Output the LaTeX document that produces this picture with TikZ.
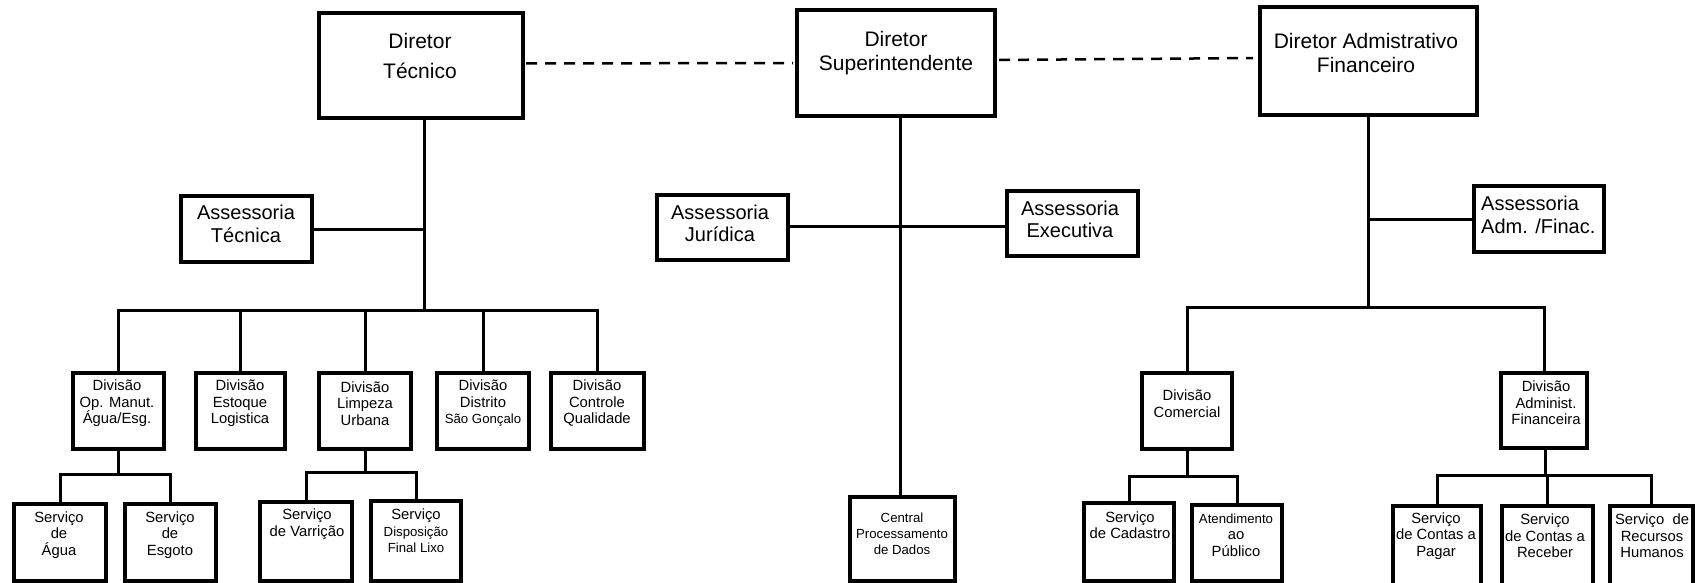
\documentclass[tikz,border=0pt]{standalone}
\usepackage{fontspec}
\setmainfont{Liberation Sans}
\usetikzlibrary{calc}
\newcommand\bx[6]{\node[#1, minimum width={#5-#3}, minimum height={#6-#4}] (#2) at ({(#3+#5)/2},{(#4+#6)/2}) {};}
\begin{document}
\begin{tikzpicture}[x=1pt,y=-1pt,
  bigbox/.style={draw, line width=4.2pt, inner sep=0pt, outer sep=0pt},
  medbox/.style={draw, line width=3.4pt, inner sep=0pt, outer sep=0pt},
  smbox/.style={draw, line width=3.4pt, inner sep=0pt, outer sep=0pt},
  conn/.style={line width=3pt},
  dashconn/.style={line width=2.5pt, dash pattern=on 11pt off 8pt},
  bigtxt/.style={align=center, inner sep=0pt, font=\fontsize{21}{24}\selectfont},
  asstxt/.style={align=center, inner sep=0pt, font=\fontsize{20}{22.5}\selectfont},
  divtxt/.style={align=center, inner sep=0pt, font=\fontsize{14.8}{16.5}\selectfont},
  smtxt/.style={align=center, inner sep=0pt, font=\fontsize{13.2}{16}\selectfont}]
\useasboundingbox (0,0) rectangle (1695,583);
% top directors
\bx{bigbox}{dt}{319}{13}{523}{118}
\bx{bigbox}{ds}{797}{10}{995}{116}
\bx{bigbox}{daf}{1260}{7}{1477}{115}
\node[bigtxt, font=\fontsize{21}{29.5}\selectfont] (dtt) at (420,56) {Diretor\\Técnico};
\node[bigtxt] (dst) at (896,53) {Diretor\\Superintendente};
\node[bigtxt] (daft) at (1366,53) {Diretor Admistrativo\\Financeiro};
% assessorias
\bx{medbox}{at}{181}{196}{312}{262}
\bx{medbox}{aj}{657}{195}{788}{260}
\bx{medbox}{ae}{1007}{191}{1138}{256}
\bx{medbox}{aaf}{1474}{186}{1604}{252}
\node[asstxt] (att) at (246,224) {Assessoria\\Técnica};
\node[asstxt] (ajt) at (720,223.5) {Assessoria\\Jurídica};
\node[asstxt] (aet) at (1070,219.5) {Assessoria\\Executiva};
\node[asstxt, align=left, anchor=west] (aaft) at (1481,215) {Assessoria\\Adm. /Finac.};
% divisions
\bx{smbox}{d1}{73}{373}{164}{449}
\bx{smbox}{d2}{196}{373}{285}{449}
\bx{smbox}{d3}{319}{373}{411}{449}
\bx{smbox}{d4}{437}{373}{529}{449}
\bx{smbox}{d5}{551}{373}{644}{449}
\bx{smbox}{dc}{1142}{373}{1232}{449}
\bx{smbox}{dadm}{1501}{373}{1587}{448}
\node[divtxt] (d1t) at (117,403.5) {Divisão\\Op. Manut.\\Água/Esg.};
\node[divtxt] (d2t) at (240,403.5) {Divisão\\Estoque\\Logistica};
\node[divtxt] (d3t) at (365,403.5) {Divisão\\Limpeza\\Urbana};
\node[divtxt] (d4t) at (483,403.5) {Divisão\\Distrito\\{\fontsize{13.2}{16}\selectfont São Gonçalo}};
\node[divtxt] (d5t) at (597,403.5) {Divisão\\Controle\\Qualidade};
\node[divtxt] (dct) at (1187,403.5) {Divisão\\Comercial};
\node[divtxt] (dadmt) at (1546,403) {Divisão\\Administ.\\Financeira};
% services
\bx{smbox}{s1}{14}{504}{106}{581}
\bx{smbox}{s2}{125}{504}{216}{581}
\bx{smbox}{s3}{260}{502}{352}{581}
\bx{smbox}{s4}{371}{501}{461}{581}
\bx{smbox}{cpd}{850}{497}{955}{581}
\bx{smbox}{sc}{1084}{503}{1174}{581}
\bx{smbox}{ap}{1192}{505}{1282}{581}
\bx{smbox}{scp}{1393}{506}{1481}{590}
\bx{smbox}{scr}{1502}{506}{1593}{590}
\bx{smbox}{srh}{1610}{506}{1693}{590}
\node[divtxt] (s1t) at (59,535) {Serviço\\de\\Água};
\node[divtxt] (s2t) at (170,535) {Serviço\\de\\Esgoto};
\node[divtxt] (s3t) at (307,524) {Serviço\\de Varrição};
\node[divtxt] (s4t) at (416,531) {Serviço\\{\fontsize{13.2}{16}\selectfont Disposição}\\{\fontsize{13.2}{16}\selectfont Final Lixo}};
\node[smtxt] (cpdt) at (902,533.5) {Central\\Processamento\\de Dados};
\node[divtxt] (sct) at (1130,525) {Serviço\\de Cadastro};
\node[divtxt] (apt) at (1236,535) {{\fontsize{13.2}{16}\selectfont Atendimento}\\ao\\Público};
\node[divtxt] (scpt) at (1436,536) {Serviço\\de Contas a\\Pagar};
\node[divtxt] (scrt) at (1545,536) {Serviço\\de Contas a\\Receber};
\node[divtxt] (srht) at (1652,536) {Serviço~~de\\Recursos\\Humanos};
% dashed links
\draw[dashconn, shorten <=3pt, shorten >=4pt] ([yshift=2pt]dt.east) -- (ds.west);
\draw[dashconn, shorten <=4pt, shorten >=7pt] ([yshift=3pt]ds.east) -- ([yshift=3pt]daf.west);
% technical branch
\coordinate (tb) at (424,310);
\draw[conn] (dt.south -| tb) -- (tb);
\draw[conn] (at.east) -- (at.east -| tb);
\draw[conn] (d1.north) -- (d1.north |- tb) -- (d5.north |- tb) -- (d5.north);
\draw[conn] (d2.north) -- (d2.north |- tb);
\draw[conn] (d3.north) -- (d3.north |- tb);
\draw[conn] (d4.north) -- (d4.north |- tb);
\coordinate (d1b) at (118,474);
\draw[conn] (d1.south -| d1b) -- (d1b);
\draw[conn] (s1.north) -- (s1.north |- d1b) -- (s2.north |- d1b) -- (s2.north);
\coordinate (d3b) at (365,472);
\draw[conn] (d3.south) -- (d3.south |- d3b);
\draw[conn] (s3.north) -- (s3.north |- d3b) -- (s4.north |- d3b) -- (s4.north);
% central branch
\coordinate (cj) at (900,226);
\draw[conn] (ds.south -| cj) -- (cpd.north -| cj);
\draw[conn] (aj.east |- cj) -- (ae.west |- cj);
% financial branch
\coordinate (fj) at (1368,307);
\draw[conn] (daf.south -| fj) -- (fj);
\draw[conn] (aaf.west) -- (aaf.west -| fj);
\draw[conn] (dc.north) -- (dc.north |- fj) -- (dadm.north |- fj) -- (dadm.north);
\coordinate (dcb) at (1187,476);
\draw[conn] (dc.south) -- (dc.south |- dcb);
\draw[conn] (sc.north) -- (sc.north |- dcb) -- (ap.north |- dcb) -- (ap.north);
\coordinate (dab) at (1545,475);
\draw[conn] (dadm.south -| dab) -- (dab);
\draw[conn] (scp.north) -- (scp.north |- dab) -- (srh.north |- dab) -- (srh.north);
\draw[conn] (scr.north) -- (scr.north |- dab);
\end{tikzpicture}
\end{document}
